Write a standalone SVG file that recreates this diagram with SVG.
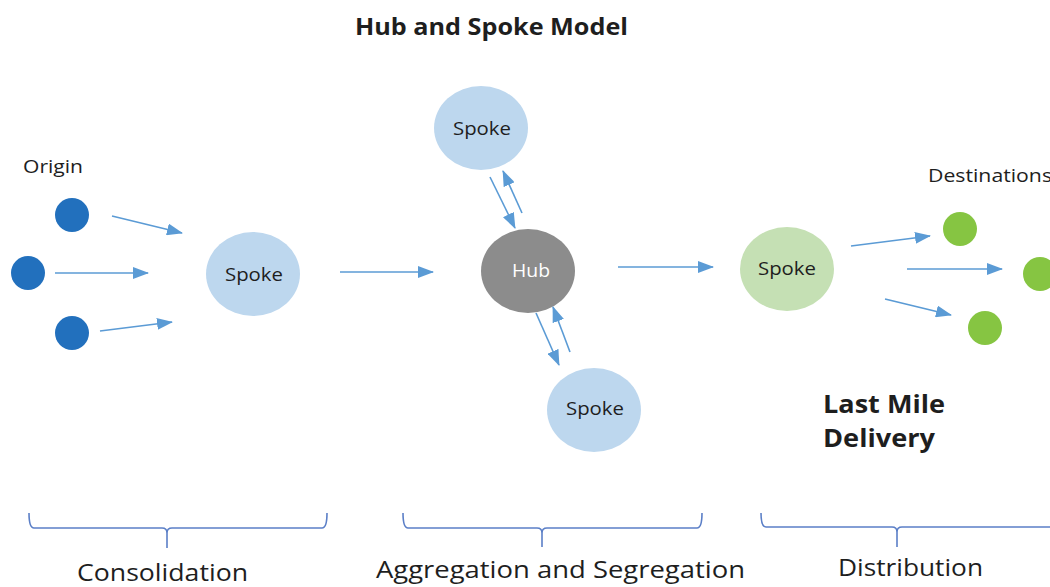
<svg xmlns="http://www.w3.org/2000/svg" width="1050" height="587" viewBox="0 0 1050 587">
<defs>
<marker id="ah" markerUnits="userSpaceOnUse" markerWidth="16" markerHeight="12" refX="15" refY="6" orient="auto">
<path d="M0,0 L16,6 L0,12 Z" fill="#5b9bd5"/>
</marker>
<style>
.t{font-family:"Open Sans","Noto Sans",sans-serif;fill:#1e1e1e}
.lbl{font-size:19px}
.sec{font-size:23px}
.c{stroke:#5b9bd5;stroke-width:1.6;fill:none;marker-end:url(#ah)}
.br{stroke:#5b7fc7;stroke-width:1.6;fill:none}
.spoke{fill:#bdd7ee}
.org{fill:#2270bd}
.dst{fill:#86c542}
</style>
</defs>
<rect width="1050" height="587" fill="#fff"/>
<text class="t" x="355" y="35" font-size="24" font-weight="bold" textLength="273" lengthAdjust="spacingAndGlyphs">Hub and Spoke Model</text>
<text class="t lbl" x="23" y="173" textLength="60" lengthAdjust="spacingAndGlyphs">Origin</text>
<text class="t lbl" x="928" y="182" textLength="124" lengthAdjust="spacingAndGlyphs">Destinations</text>
<g id="origin1"><circle class="org" cx="72" cy="215" r="17"/></g>
<g id="origin2"><circle class="org" cx="28" cy="273" r="17"/></g>
<g id="origin3"><circle class="org" cx="72" cy="333" r="17"/></g>
<g id="spoke1"><ellipse class="spoke" cx="253" cy="274" rx="47" ry="42"/><text class="t lbl" x="225" y="281" textLength="58" lengthAdjust="spacingAndGlyphs">Spoke</text></g>
<g id="hub"><ellipse fill="#8c8c8c" cx="528" cy="271" rx="47" ry="42"/><text class="t lbl" x="512" y="277" textLength="38" lengthAdjust="spacingAndGlyphs" style="fill:#fff">Hub</text></g>
<g id="spokeTop"><ellipse class="spoke" cx="481" cy="128" rx="47" ry="42"/><text class="t lbl" x="453" y="135" textLength="58" lengthAdjust="spacingAndGlyphs">Spoke</text></g>
<g id="spokeBottom"><ellipse class="spoke" cx="594" cy="410" rx="47" ry="42"/><text class="t lbl" x="566" y="415" textLength="58" lengthAdjust="spacingAndGlyphs">Spoke</text></g>
<g id="spoke3"><ellipse fill="#c5e0b4" cx="787" cy="269" rx="47" ry="42"/><text class="t lbl" x="758" y="275" textLength="58" lengthAdjust="spacingAndGlyphs">Spoke</text></g>
<g id="dest1"><circle class="dst" cx="960" cy="229" r="17"/></g>
<g id="dest2"><circle class="dst" cx="1040" cy="274" r="17"/></g>
<g id="dest3"><circle class="dst" cx="985" cy="328" r="17"/></g>
<g id="connectors">
<line class="c" x1="112" y1="216" x2="182" y2="233"/>
<line class="c" x1="55" y1="273" x2="148" y2="273"/>
<line class="c" x1="100" y1="331" x2="172" y2="322"/>
<line class="c" x1="340" y1="272" x2="433" y2="272"/>
<line class="c" x1="490" y1="177" x2="515" y2="228"/>
<line class="c" x1="522" y1="213" x2="503" y2="171"/>
<line class="c" x1="536" y1="313" x2="559" y2="365"/>
<line class="c" x1="570" y1="352" x2="553" y2="307"/>
<line class="c" x1="618" y1="267" x2="713" y2="267"/>
<line class="c" x1="851" y1="246" x2="930" y2="236"/>
<line class="c" x1="907" y1="269" x2="1002" y2="269"/>
<line class="c" x1="885" y1="299" x2="951" y2="315"/>
</g>
<text class="t" x="823" y="413" font-size="25" font-weight="bold" textLength="122" lengthAdjust="spacingAndGlyphs">Last Mile</text>
<text class="t" x="823" y="447" font-size="25" font-weight="bold" textLength="112" lengthAdjust="spacingAndGlyphs">Delivery</text>
<g id="brackets">
<path class="br" d="M29,513 Q29,528 34,528 L162,528 Q167,528 167,533 L167,548 M167,533 Q167,528 172,528 L322,528 Q327,528 327,513"/>
<path class="br" d="M403,513 Q403,528 408,528 L537,528 Q542,528 542,533 L542,547 M542,533 Q542,528 547,528 L697,528 Q702,528 702,513"/>
<path class="br" d="M761,513 Q761,527 766,527 L892,527 Q897,527 897,532 L897,547 M897,532 Q897,527 902,527 L1052,527"/>
</g>
<text class="t sec" x="77" y="581" textLength="171" lengthAdjust="spacingAndGlyphs">Consolidation</text>
<text class="t sec" x="376" y="578" textLength="369" lengthAdjust="spacingAndGlyphs">Aggregation and Segregation</text>
<text class="t sec" x="838" y="576" textLength="145" lengthAdjust="spacingAndGlyphs">Distribution</text>
</svg>
